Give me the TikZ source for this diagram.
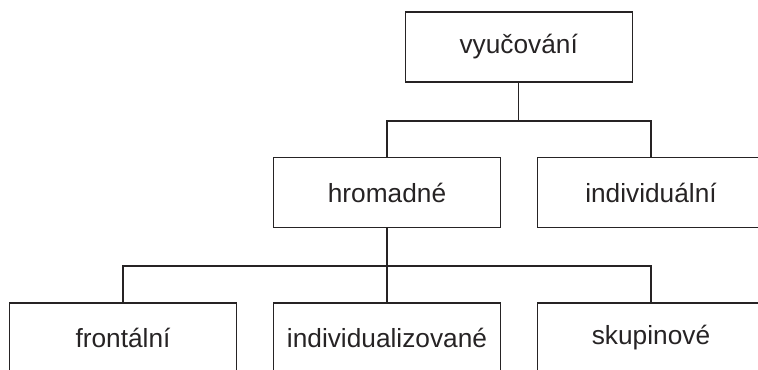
\documentclass[tikz,border=0pt]{standalone}
\usepackage{fontspec}
\setmainfont{Liberation Sans}
\usetikzlibrary{positioning}
\definecolor{ink}{HTML}{262324}

\begin{document}
\begin{tikzpicture}[x=0.75pt, y=-0.75pt,
    every node/.style={font=\fontsize{19.7}{24}\selectfont, text=ink},
    formbox/.style={draw=ink, line width=0.8pt, minimum width=170.25pt, minimum height=52.5pt, inner sep=0pt},
    wire/.style={draw=ink, line width=0.8pt}]

% Frame (boxes at the edge are cut off)
\useasboundingbox (0,0) rectangle (758,369);
\clip (0,0) rectangle (758,369);

% Top level
\node[formbox] (vyuc) at (518.7,47) {vyučování};

% Second level
\node[formbox] (hrom) at (387,192.5) {hromadné};
\node[formbox] (indiv) at (651,192.5) {individuální};

% Third level
\node[formbox] (front) at (123,338) {frontální};
\node[formbox] (indz) at (387,338) {individualizované};
\node[formbox] (skup) at (651,338) {skupinové};

% Branch lines
\coordinate (bus1) at (0,121);
\coordinate (bus2) at (0,266);

\draw[wire] (vyuc.south) -- (vyuc.south |- bus1);
\draw[wire] (hrom.north) |- (bus1 -| indiv.north) -- (indiv.north);

\draw[wire] (hrom.south) -- (indz.north);
\draw[wire] (front.north) |- (bus2 -| skup.north) -- (skup.north);

\end{tikzpicture}
\end{document}
